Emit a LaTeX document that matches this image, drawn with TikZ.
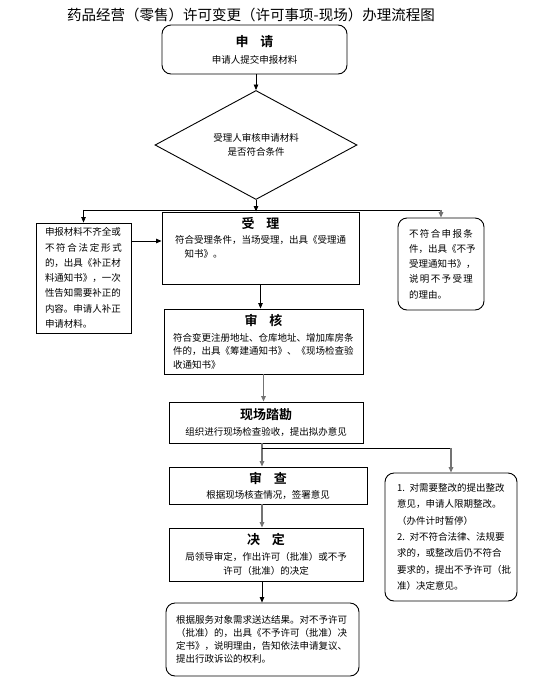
\documentclass[tikz,border=0pt]{standalone}
\usepackage{fontspec}
\setmainfont{Noto Sans CJK SC}[BoldFont={Noto Sans CJK SC Bold}]
\usetikzlibrary{arrows.meta, positioning, shapes.geometric}

\newcommand\bodyfont{\fontsize{9.5}{13.5}\selectfont}
\newcommand\hd[1]{{\fontsize{13}{13}\selectfont\bfseries #1}}

\begin{document}
\begin{tikzpicture}[x=1pt, y=-1pt, font=\bodyfont]
  % Styles
  \tikzset{
    box/.style={draw=black, line width=0.9pt, inner sep=0pt, align=left},
    rbox/.style={box, rounded corners=9pt},
    arrow/.style={-{Triangle[length=5.5pt,width=4.5pt]}, line width=0.8pt},
    garrow/.style={arrow, draw=black!55, line width=1.3pt}
  }
  \useasboundingbox (0,0) rectangle (537,683);

  % Nodes
  \node[font=\fontsize{14.5}{17}\selectfont] (title) at (251,15) {药品经营（零售）许可变更（许可事项-现场）办理流程图};
  \node[rbox, minimum width=185, minimum height=49, text width=170, align=center] (apply) at (254.5,49.5) {\hd{申\hspace{0.9em}请}\\[3.5pt]申请人提交申报材料};
  \node[box, shape=diamond, minimum width=202, minimum height=76, align=center, font={\fontsize{9.5}{14.7}\selectfont}] (judge) at (256,145) {受理人审核申请材料\\是否符合条件};

  \node[box, minimum width=95, minimum height=110, text width=77, font={\fontsize{9.5}{15.3}\selectfont}] (supply) at (83.5,278) {申报材料不齐全或\\\makebox[\hsize][s]{不\hfill{}符\hfill{}合\hfill{}法\hfill{}定\hfill{}形\hfill{}式}\\的，出具《补正材\\料通知书》，一次\\性告知需要补正的\\内容。申请人补正\\申请材料。};
  \node[box, minimum width=197, minimum height=72, text width=171] (accept) at (260.5,248) {\makebox[\hsize]{\hd{受\hspace{0.9em}理}}\\[1.5pt]符合受理条件，当场受理，出具《受理通\\\hspace*{1em}知书》。\rule[-21pt]{0pt}{21pt}};
  \node[rbox, minimum width=86, minimum height=92, text width=64, font={\fontsize{9.5}{15.3}\selectfont}] (reject) at (441,264) {\makebox[\hsize][s]{不\hfill{}符\hfill{}合\hfill{}申\hfill{}报\hfill{}条}\\件，出具《不予\\受理通知书》，\\\makebox[\hsize][s]{说\hfill{}明\hfill{}不\hfill{}予\hfill{}受\hfill{}理}\\的理由。};

  \node[box, minimum width=199, minimum height=65, text width=181] (review) at (263.5,341.5) {\makebox[\hsize]{\hd{审\hspace{0.9em}核}}\\[2.5pt]符合变更注册地址、仓库地址、增加库房条\\件的，出具《筹建通知书》、《现场检查验\\收通知书》};
  \node[box, minimum width=194, minimum height=41, text width=180, align=center] (site) at (266,422.5) {\hd{现场踏勘}\\[2.5pt]组织进行现场检查验收，提出拟办意见};
  \node[box, minimum width=198, minimum height=37, text width=180, align=center] (audit) at (268,485.5) {\hd{审\hspace{0.9em}查}\\[1.5pt]根据现场核查情况，签署意见};
  \node[box, minimum width=194, minimum height=53, text width=180, align=center] (decide) at (266,554.5) {\hd{决\hspace{0.9em}定}\\[2.5pt]局领导审定，作出许可（批准）或不予\\许可（批准）的决定};
  \node[rbox, minimum width=193, minimum height=73, text width=173, font={\fontsize{9.5}{13}\selectfont}] (result) at (262.5,639.5) {根据服务对象需求送达结果。对不予许可\\（批准）的，出具《不予许可（批准）决\\定书》，说明理由，告知依法申请复议、\\提出行政诉讼的权利。};
  \node[rbox, minimum width=132, minimum height=128, text width=108, font={\fontsize{9.5}{16.3}\selectfont}] (rectify) at (451,537) {1. 对需要整改的提出整改\\意见，申请人限期整改。\\（办件计时暂停）\\2. 对不符合法律、法规要\\求的，或整改后仍不符合\\要求的，提出不予许可（批\\准）决定意见。};

  % Arrows
  \coordinate (split) at ([yshift=-10pt]judge.south);
  \coordinate (entry) at ([yshift=7pt]accept.west);
  \coordinate (col) at ([xshift=-4pt]site.south);
  \coordinate (fork) at ([yshift=-5pt]col);

  \draw[arrow] (apply.south -| judge.north) -- (judge.north);
  \draw[arrow] (judge.south) -- (judge.south |- accept.north);
  \draw[line width=0.8pt] (split -| supply.north) -- (split -| reject.north);
  \draw[arrow] (split -| supply.north) -- (supply.north);
  \draw[garrow] (split -| reject.north) -- (reject.north);
  \draw[arrow] (supply.east |- entry) -- (entry);
  \draw[arrow] (accept.south) -- (accept.south |- review.north);
  \draw[garrow] (review.south) -- (review.south |- site.north);
  \draw[garrow] (col) -- (col |- audit.north);
  \draw[line width=0.8pt] (fork) -- (fork -| rectify.north);
  \draw[garrow] (fork -| rectify.north) -- (rectify.north);
  \draw[garrow] (col |- audit.south) -- (col |- decide.north);
  \draw[arrow] (col |- decide.south) -- (col |- result.north);
\end{tikzpicture}
\end{document}
